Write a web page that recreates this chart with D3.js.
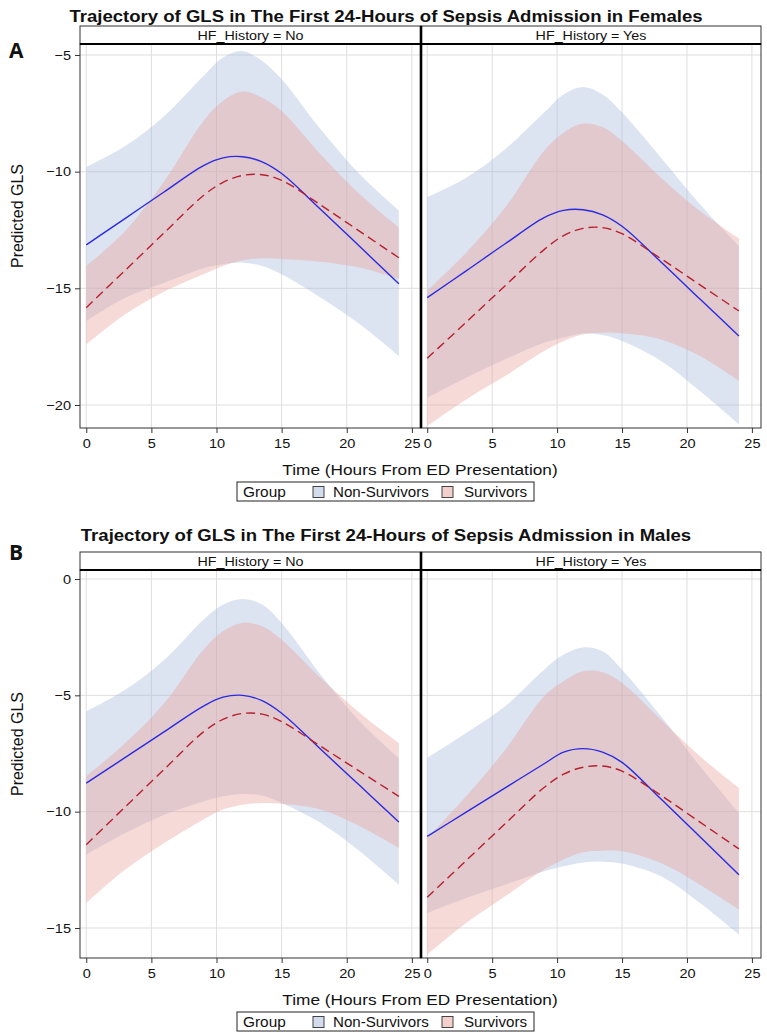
<!DOCTYPE html>
<html>
<head>
<meta charset="utf-8">
<script src="https://cdn.jsdelivr.net/npm/d3@7"></script>
<style>
  html, body { margin: 0; padding: 0; background: #fff; }
  svg { display: block; font-family: "Liberation Sans", Arial, sans-serif; }
</style>
</head>
<body>
<svg id="chart" width="767" height="1035"></svg>
<script>
// ---------------- DATA ----------------
const hours = [0, 3, 6, 9, 10.5, 12, 13.5, 15, 18, 21, 24];
const groups = ["Non-Survivors", "Survivors"];
const panelLabels = ["HF_History = No", "HF_History = Yes"];
const xTicks = [0, 5, 10, 15, 20, 25];
const yTicksFemales = [-5, -10, -15, -20];
const yTicksMales = [0, -5, -10, -15];
const titleFemales = "Trajectory of GLS in The First 24-Hours of Sepsis Admission in Females";
const titleMales = "Trajectory of GLS in The First 24-Hours of Sepsis Admission in Males";
const xTitle = "Time (Hours From ED Presentation)";
const yTitle = "Predicted GLS";
const legendTitle = "Group";

// Females, HF_History = No
const fNoNS_mean = [-13.14,-12.00,-10.86,-9.74,-9.41,-9.36,-9.58,-10.08,-11.62,-13.21,-14.80];
const fNoNS_lo   = [-16.40,-15.40,-14.76,-14.14,-13.97,-13.90,-14.04,-14.40,-15.40,-16.54,-17.90];
const fNoNS_hi   = [-9.80,-8.90,-7.61,-5.90,-5.11,-4.83,-5.26,-6.04,-8.19,-10.11,-11.66];
const fNoS_mean  = [-15.83,-14.22,-12.61,-11.02,-10.46,-10.16,-10.13,-10.37,-11.43,-12.56,-13.69];
const fNoS_lo    = [-17.40,-16.11,-15.14,-14.40,-14.04,-13.80,-13.71,-13.74,-13.86,-14.11,-14.61];
const fNoS_hi    = [-14.04,-12.54,-10.40,-7.83,-6.97,-6.57,-6.83,-7.40,-9.26,-10.97,-12.40];
// Females, HF_History = Yes
const fYesNS_mean = [-15.40,-14.25,-13.09,-11.97,-11.66,-11.63,-11.85,-12.34,-13.87,-15.46,-17.04];
const fYesNS_lo   = [-19.69,-18.83,-18.04,-17.33,-17.11,-16.94,-17.00,-17.26,-18.11,-19.40,-20.83];
const fYesNS_hi   = [-11.09,-10.26,-9.04,-7.47,-6.69,-6.37,-6.69,-7.47,-9.40,-11.40,-13.19];
const fYesS_mean  = [-18.00,-16.45,-14.89,-13.34,-12.74,-12.43,-12.40,-12.66,-13.73,-14.85,-15.97];
const fYesS_lo    = [-20.90,-19.76,-18.76,-17.69,-17.26,-16.97,-16.90,-16.93,-17.19,-17.90,-18.97];
const fYesS_hi    = [-15.11,-13.47,-11.54,-9.11,-8.33,-7.94,-8.09,-8.69,-10.26,-11.69,-12.87];
// Males, HF_History = No
const mNoNS_mean = [-8.77,-7.67,-6.56,-5.46,-5.08,-5.00,-5.23,-5.77,-7.32,-8.88,-10.44];
const mNoNS_lo   = [-11.85,-10.92,-10.13,-9.56,-9.34,-9.24,-9.31,-9.63,-10.49,-11.70,-13.14];
const mNoNS_hi   = [-5.69,-4.76,-3.47,-1.75,-1.10,-0.86,-1.10,-1.89,-4.11,-6.12,-7.69];
const mNoS_mean  = [-11.42,-9.79,-8.17,-6.57,-6.03,-5.78,-5.81,-6.13,-7.19,-8.27,-9.34];
const mNoS_lo    = [-13.93,-12.49,-11.35,-10.34,-9.91,-9.70,-9.63,-9.66,-9.91,-10.63,-11.56];
const mNoS_hi    = [-8.48,-7.05,-5.33,-3.04,-2.25,-1.89,-2.03,-2.61,-4.26,-5.76,-7.05];
// Males, HF_History = Yes
const mYesNS_mean = [-11.06,-10.02,-8.98,-7.94,-7.44,-7.29,-7.44,-7.88,-9.46,-11.08,-12.71];
const mYesNS_lo   = [-14.36,-13.71,-13.14,-12.56,-12.35,-12.18,-12.15,-12.23,-12.78,-13.93,-15.29];
const mYesNS_hi   = [-7.69,-6.62,-5.47,-3.90,-3.25,-2.94,-3.11,-3.90,-5.90,-8.05,-10.06];
const mYesS_mean  = [-13.68,-12.10,-10.52,-8.96,-8.39,-8.09,-8.04,-8.26,-9.30,-10.45,-11.60];
const mYesS_lo    = [-16.15,-14.79,-13.64,-12.49,-12.06,-11.75,-11.68,-11.70,-12.21,-13.14,-14.21];
const mYesS_hi    = [-11.13,-9.34,-7.34,-5.04,-4.40,-3.97,-4.01,-4.47,-6.05,-7.62,-8.98];

// ---------------- STYLE ----------------
const bandFill = { "Non-Survivors": "#a8b9dc", "Survivors": "#e9a29b" };
const bandOpacity = 0.4;
const lineColor = { "Non-Survivors": "#2a2ae0", "Survivors": "#b8202e" };
const lineDash = { "Non-Survivors": null, "Survivors": "9,5" };
const SX = 1.12; // horizontal stretch of the lettering

const svg = d3.select("#chart");
const defs = svg.append("defs");
let clipId = 0;

function makeSeries(mean, lo, hi) {
  return hours.map((h, i) => ({ h, mean: mean[i], lo: lo[i], hi: hi[i] }));
}

function label(g, x, y, str, size, opts = {}) {
  const t = g.append("text")
    .attr("transform", `translate(${x},${y}) scale(${opts.sx || SX},1)`)
    .attr("text-anchor", opts.anchor || "start")
    .attr("font-size", size)
    .attr("fill", "#111")
    .text(str);
  if (opts.bold) t.attr("font-weight", "bold");
  if (opts.family) t.attr("font-family", opts.family);
  return t;
}

function drawFigure(cfg) {
  const g = svg.append("g");
  const panelX = [[80, 421], [421, 761]];
  const y = d3.scaleLinear().domain(cfg.yDomain).range([cfg.plotBottom, cfg.plotTop]);

  // title + letter
  label(g, 386, cfg.titleY, cfg.title, 16, { anchor: "middle", bold: true, sx: 1.16 });
  label(g, 9, cfg.letterY, cfg.letter, 21, { bold: true, sx: 1.0, family: "'Open Sans', 'Liberation Sans', sans-serif" });

  cfg.panels.forEach((p, pi) => {
    const [x0, x1] = panelX[pi];
    const x = d3.scaleLinear().domain([-0.48, 25.7]).range([x0, x1]);
    const cid = "clip" + (clipId++);
    defs.append("clipPath").attr("id", cid).append("rect")
      .attr("x", x0).attr("y", cfg.plotTop).attr("width", x1 - x0).attr("height", cfg.plotBottom - cfg.plotTop);

    const pg = g.append("g");
    // grid
    pg.append("g").selectAll("line").data(xTicks).join("line")
      .attr("x1", d => x(d)).attr("x2", d => x(d))
      .attr("y1", cfg.plotTop).attr("y2", cfg.plotBottom)
      .attr("stroke", "#dedede").attr("stroke-width", 1);
    pg.append("g").selectAll("line").data(cfg.yTicks).join("line")
      .attr("x1", x0).attr("x2", x1)
      .attr("y1", d => y(d)).attr("y2", d => y(d))
      .attr("stroke", "#dedede").attr("stroke-width", 1);

    const cg = pg.append("g").attr("clip-path", `url(#${cid})`);
    const area = d3.area().x(d => x(d.h)).y0(d => y(d.lo)).y1(d => y(d.hi)).curve(d3.curveCatmullRom);
    const line = d3.line().x(d => x(d.h)).y(d => y(d.mean)).curve(d3.curveCatmullRom);

    groups.forEach(gr => {
      cg.append("path").datum(p[gr]).attr("d", area)
        .attr("fill", bandFill[gr]).attr("fill-opacity", bandOpacity).attr("stroke", "none");
    });
    groups.forEach(gr => {
      cg.append("path").datum(p[gr]).attr("d", line)
        .attr("fill", "none").attr("stroke", lineColor[gr]).attr("stroke-width", 1.4)
        .attr("stroke-dasharray", lineDash[gr]);
    });

    // frame
    pg.append("rect").attr("x", x0).attr("y", cfg.plotTop).attr("width", x1 - x0)
      .attr("height", cfg.plotBottom - cfg.plotTop).attr("fill", "none").attr("stroke", "#333").attr("stroke-width", 1);
    // header strip
    pg.append("rect").attr("x", x0).attr("y", cfg.headerTop).attr("width", x1 - x0)
      .attr("height", cfg.plotTop - cfg.headerTop).attr("fill", "#fff").attr("stroke", "#333").attr("stroke-width", 1);
    pg.append("line").attr("x1", x0).attr("x2", x1).attr("y1", cfg.plotTop).attr("y2", cfg.plotTop)
      .attr("stroke", "#000").attr("stroke-width", 2.2);
    label(pg, (x0 + x1) / 2, cfg.plotTop - 4.5, panelLabels[pi], 13, { anchor: "middle", sx: 1.1 });

    // x axis
    const xa = pg.append("g").attr("transform", `translate(0,${cfg.plotBottom})`)
      .call(d3.axisBottom(x).tickValues(xTicks).tickSize(5).tickPadding(6));
    xa.select(".domain").remove();
    xa.selectAll("line").attr("stroke", "#333");
    xa.selectAll("text").attr("font-size", 13).attr("fill", "#111")
      .attr("font-family", "'Liberation Sans', Arial, sans-serif")
      .attr("transform", `scale(${SX},1)`);

    if (pi === 0) {
      const ya = pg.append("g").attr("transform", `translate(${x0},0)`)
        .call(d3.axisLeft(y).tickValues(cfg.yTicks).tickSize(5).tickPadding(3));
      ya.select(".domain").remove();
      ya.selectAll("line").attr("stroke", "#333");
      ya.selectAll("text").attr("font-size", 13).attr("fill", "#111")
        .attr("font-family", "'Liberation Sans', Arial, sans-serif")
        .attr("transform", `scale(${SX},1)`);
    }
  });

  // divider
  g.append("line").attr("x1", 421).attr("x2", 421).attr("y1", cfg.headerTop).attr("y2", cfg.plotBottom)
    .attr("stroke", "#000").attr("stroke-width", 2.6);

  // axis titles
  label(g, 420, cfg.plotBottom + 47, xTitle, 15, { anchor: "middle", sx: 1.15 });
  const yc = (cfg.plotTop + cfg.plotBottom) / 2 - 20;
  g.append("text").attr("transform", `translate(23,${yc}) rotate(-90)`)
    .attr("text-anchor", "middle").attr("font-size", 16).attr("fill", "#111").text(yTitle);

  // legend
  const ly = cfg.plotBottom + 54;
  const lg = g.append("g");
  lg.append("rect").attr("x", 237).attr("y", ly).attr("width", 297).attr("height", 19)
    .attr("fill", "#fff").attr("stroke", "#222").attr("stroke-width", 1);
  label(lg, 243, ly + 15, legendTitle, 14, { sx: 1.1 });
  const items = [{ g: "Non-Survivors", sx: 313, tx: 333 }, { g: "Survivors", sx: 442, tx: 464 }];
  items.forEach(it => {
    lg.append("rect").attr("x", it.sx).attr("y", ly + 4.5).attr("width", 11).attr("height", 11)
      .attr("fill", bandFill[it.g]).attr("fill-opacity", 0.5).attr("stroke", "#444").attr("stroke-width", 1);
    label(lg, it.tx, ly + 15, it.g, 14, { sx: 1.08 });
  });
}

drawFigure({
  letter: "A", title: titleFemales, titleY: 22, letterY: 58,
  headerTop: 26, plotTop: 44, plotBottom: 428,
  yDomain: [-20.986, -4.529], yTicks: yTicksFemales,
  panels: [
    { "Non-Survivors": makeSeries(fNoNS_mean, fNoNS_lo, fNoNS_hi), "Survivors": makeSeries(fNoS_mean, fNoS_lo, fNoS_hi) },
    { "Non-Survivors": makeSeries(fYesNS_mean, fYesNS_lo, fYesNS_hi), "Survivors": makeSeries(fYesS_mean, fYesS_lo, fYesS_hi) }
  ]
});

drawFigure({
  letter: "B", title: titleMales, titleY: 541, letterY: 560,
  headerTop: 552, plotTop: 570, plotBottom: 958,
  yDomain: [-16.29, 0.387], yTicks: yTicksMales,
  panels: [
    { "Non-Survivors": makeSeries(mNoNS_mean, mNoNS_lo, mNoNS_hi), "Survivors": makeSeries(mNoS_mean, mNoS_lo, mNoS_hi) },
    { "Non-Survivors": makeSeries(mYesNS_mean, mYesNS_lo, mYesNS_hi), "Survivors": makeSeries(mYesS_mean, mYesS_lo, mYesS_hi) }
  ]
});
</script>
</body>
</html>
